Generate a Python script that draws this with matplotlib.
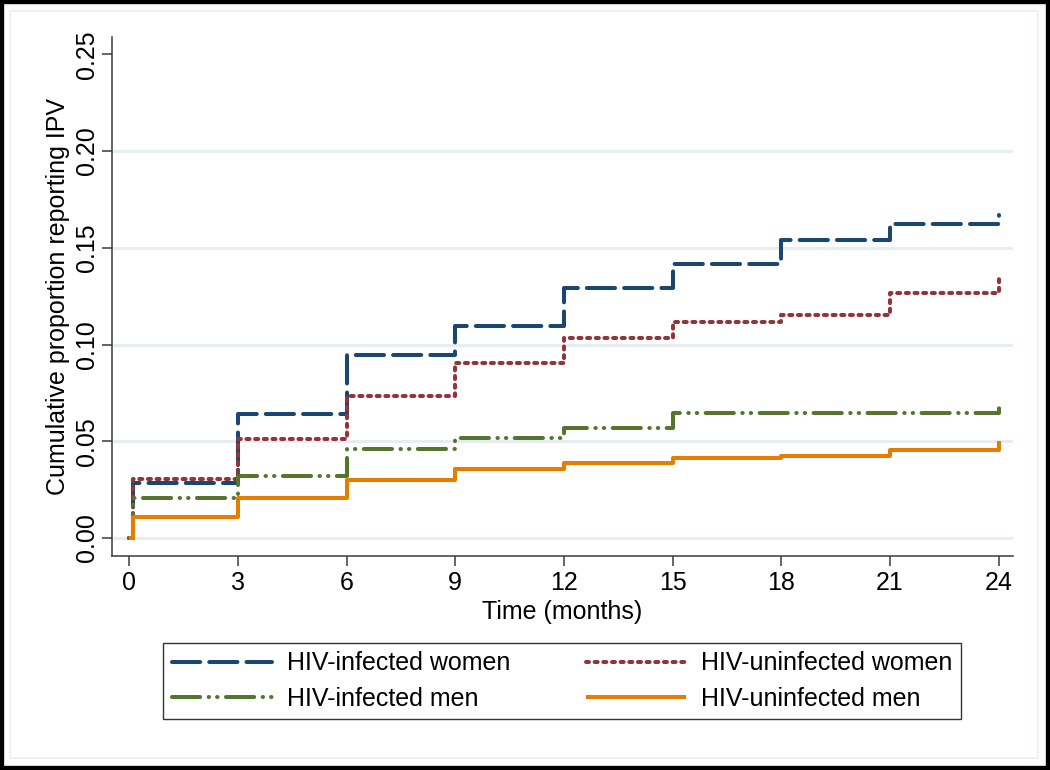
import matplotlib
matplotlib.use("Agg")
import matplotlib.pyplot as plt
from matplotlib.patches import Rectangle

plt.rcParams["font.family"] = ["Liberation Sans", "DejaVu Sans"]

# step times (months) and cumulative proportions
times = [0, 0.1, 3, 6, 9, 12, 15, 18, 21, 24]
inf_women = [0, 0.0285, 0.064, 0.0945, 0.1095, 0.129, 0.1415, 0.154, 0.1625, 0.167]
uninf_women = [0, 0.0305, 0.051, 0.0735, 0.0905, 0.1035, 0.1118, 0.1155, 0.1265, 0.1365]
inf_men = [0, 0.0205, 0.032, 0.046, 0.0515, 0.057, 0.0645, 0.0645, 0.0645, 0.069]
uninf_men = [0, 0.0108, 0.0205, 0.030, 0.0357, 0.0388, 0.0413, 0.0424, 0.0455, 0.050]

labels = ["HIV-infected women", "HIV-uninfected women",
          "HIV-infected men", "HIV-uninfected men"]
xticks = [0, 3, 6, 9, 12, 15, 18, 21, 24]
yticks = [0.00, 0.05, 0.10, 0.15, 0.20, 0.25]

NAVY = "#1a476f"
MAROON = "#90353b"
FOREST = "#55752f"
ORANGE = "#e37e00"
GRID = "#e6eef1"
AXC = "#3a3a3a"
FS = 18

fig = plt.figure(figsize=(10.5, 7.7), dpi=100)
fig.patch.set_facecolor("white")
ax = fig.add_axes([0.1067, 0.278, 0.858, 0.674])

lw = 2.9
styles = [
    (NAVY, (0, (7, 2.25))),
    (MAROON, (0, (0.75, 1.4))),
    (FOREST, (0, (7, 2.1, 0.1, 2.0, 0.1, 2.1))),
    (ORANGE, "-"),
]
handles = []
for vals, (col, ls), lab in zip([inf_women, uninf_women, inf_men, uninf_men],
                                styles, labels):
    h, = ax.plot(times, vals, drawstyle="steps-post", color=col, lw=lw,
                 linestyle=ls, dash_capstyle="round", solid_capstyle="butt",
                 label=lab, zorder=3)
    handles.append(h)

ax.set_xlim(-0.47, 24.39)
ax.set_ylim(-0.0093, 0.259)
ax.set_xticks(xticks)
ax.set_yticks(yticks)
ax.set_yticklabels([f"{v:.2f}" for v in yticks], rotation=90, va="center")
ax.tick_params(axis="both", direction="out", length=7.2, width=1.1,
               color=AXC, labelsize=FS, labelcolor="black")
ax.tick_params(axis="x", pad=4)
ax.tick_params(axis="y", pad=2)

ax.yaxis.grid(True, color=GRID, lw=2.2, zorder=0)
ax.get_ygridlines()[-1].set_visible(False)
ax.set_axisbelow(True)

for side in ("top", "right"):
    ax.spines[side].set_visible(False)
for side in ("left", "bottom"):
    ax.spines[side].set_color(AXC)
    ax.spines[side].set_linewidth(1.1)

ax.set_xlabel("Time (months)", fontsize=FS, labelpad=3)
ax.set_ylabel("Cumulative proportion reporting IPV", fontsize=FS, labelpad=4)

# legend fills column-wise: reorder so rows read women / men
order = [0, 2, 1, 3]
leg = fig.legend(handles=[handles[i] for i in order], loc="center",
                 bbox_to_anchor=(0.1552, 0.0597, 0.76, 0.1117), mode="expand",
                 ncol=2, fontsize=FS, frameon=True, fancybox=False,
                 handlelength=4.0, handletextpad=0.6, borderpad=0.35,
                 labelspacing=0.45, borderaxespad=0)
leg.get_frame().set_edgecolor("black")
leg.get_frame().set_linewidth(1.0)

# faint Stata graph-region outline and the black outer frame
fig.patches.append(Rectangle((10 / 1050, 12 / 770), 1028 / 1050, 747 / 770,
                             transform=fig.transFigure, fill=False,
                             ec="#edf2f4", lw=1.5))
fig.patches.append(Rectangle((0, 0), 1, 1, transform=fig.transFigure,
                             fill=False, ec="black", lw=6))

fig.savefig("out.png", dpi=100, facecolor="white")
